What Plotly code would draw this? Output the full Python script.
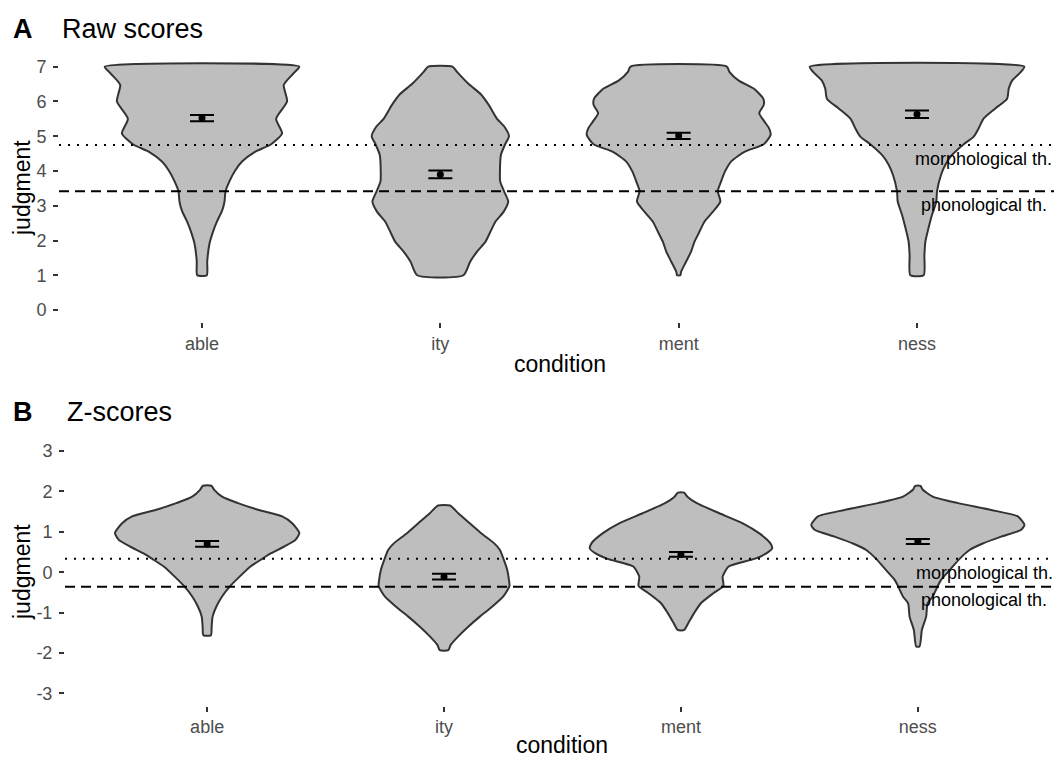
import plotly.graph_objects as go

# page body adds an 8px margin; figure is sized so it fits the 1062x758 window
OFF = 8
W, H = 1062 - OFF, 758 - OFF
categories = ["able", "ity", "ment", "ness"]

# ---- Panel A: raw scores ----
means_raw = [5.52, 3.90, 5.01, 5.63]
se_raw = [0.09, 0.11, 0.09, 0.11]
thr_raw = {"morph": 4.75, "phon": 3.42}
raw_ticks = [0, 1, 2, 3, 4, 5, 6, 7]

# violin profiles: judgment values and half-widths (category units)
raw_able_y = [1.0, 1.4, 1.9, 2.25, 2.55, 2.85, 3.1, 3.42, 3.7, 4.0, 4.27, 4.55, 4.77, 5.08, 5.5, 6.0, 6.47, 6.7, 6.85, 7.0]
raw_able_w = [0.020, 0.022, 0.031, 0.046, 0.063, 0.084, 0.094, 0.099, 0.115, 0.138, 0.168, 0.222, 0.290, 0.336, 0.311, 0.357, 0.343, 0.369, 0.390, 0.408]
raw_ity_y = [1.0, 1.39, 1.68, 1.96, 2.25, 2.54, 2.83, 3.12, 3.42, 3.7, 3.98, 4.46, 4.77, 5.0, 5.27, 5.5, 5.9, 6.2, 6.5, 6.85, 7.0]
raw_ity_w = [0.097, 0.125, 0.154, 0.189, 0.210, 0.231, 0.266, 0.285, 0.267, 0.251, 0.250, 0.254, 0.272, 0.288, 0.269, 0.238, 0.203, 0.171, 0.119, 0.070, 0.051]
raw_ment_y = [1.0, 1.1, 1.39, 1.68, 1.96, 2.25, 2.54, 2.83, 3.12, 3.42, 3.7, 3.98, 4.27, 4.55, 4.77, 5.04, 5.23, 5.42, 5.66, 5.9, 6.08, 6.37, 6.6, 6.85, 7.0]
raw_ment_w = [0.007, 0.010, 0.031, 0.052, 0.066, 0.087, 0.108, 0.144, 0.175, 0.164, 0.178, 0.194, 0.220, 0.276, 0.357, 0.386, 0.379, 0.360, 0.338, 0.357, 0.355, 0.315, 0.252, 0.213, 0.202]
raw_ness_y = [1.0, 1.58, 1.96, 2.35, 2.74, 3.12, 3.42, 3.89, 4.18, 4.46, 4.77, 4.99, 5.23, 5.51, 5.8, 6.08, 6.37, 6.6, 6.85, 7.0]
raw_ness_w = [0.028, 0.031, 0.035, 0.048, 0.063, 0.081, 0.084, 0.101, 0.119, 0.147, 0.196, 0.238, 0.259, 0.280, 0.329, 0.378, 0.385, 0.399, 0.436, 0.450]

# ---- Panel B: z-scores ----
means_z = [0.70, -0.11, 0.44, 0.76]
se_z = [0.07, 0.07, 0.06, 0.06]
thr_z = {"morph": 0.33, "phon": -0.36}
z_ticks = [-3, -2, -1, 0, 1, 2, 3]

z_able_y = [-1.56, -1.35, -1.1, -0.85, -0.6, -0.34, -0.11, 0.14, 0.33, 0.47, 0.63, 0.8, 0.97, 1.21, 1.38, 1.54, 1.71, 1.87, 2.04, 2.14]
z_able_w = [0.016, 0.019, 0.023, 0.039, 0.063, 0.098, 0.137, 0.183, 0.232, 0.270, 0.324, 0.373, 0.389, 0.359, 0.317, 0.218, 0.130, 0.063, 0.030, 0.018]
z_ity_y = [-1.93, -1.8, -1.6, -1.35, -1.1, -0.85, -0.6, -0.34, -0.19, 0.05, 0.33, 0.55, 0.72, 0.96, 1.21, 1.46, 1.65]
z_ity_w = [0.018, 0.028, 0.058, 0.102, 0.151, 0.204, 0.250, 0.276, 0.274, 0.267, 0.251, 0.236, 0.211, 0.158, 0.109, 0.060, 0.025]
z_ment_y = [-1.43, -1.27, -1.02, -0.77, -0.52, -0.34, -0.11, 0.14, 0.33, 0.47, 0.59, 0.72, 0.96, 1.21, 1.46, 1.71, 1.87, 1.97]
z_ment_w = [0.014, 0.030, 0.055, 0.084, 0.137, 0.179, 0.176, 0.201, 0.310, 0.362, 0.385, 0.377, 0.331, 0.261, 0.162, 0.067, 0.027, 0.013]
z_ness_y = [-1.84, -1.43, -1.1, -0.77, -0.6, -0.34, -0.19, 0.05, 0.33, 0.55, 0.71, 0.88, 1.05, 1.17, 1.38, 1.54, 1.71, 1.87, 2.04, 2.14]
z_ness_w = [0.007, 0.017, 0.035, 0.041, 0.063, 0.084, 0.098, 0.134, 0.176, 0.218, 0.274, 0.352, 0.436, 0.450, 0.422, 0.310, 0.169, 0.063, 0.021, 0.011]

raw_profiles = [(raw_able_y, raw_able_w), (raw_ity_y, raw_ity_w), (raw_ment_y, raw_ment_w), (raw_ness_y, raw_ness_w)]
z_profiles = [(z_able_y, z_able_w), (z_ity_y, z_ity_w), (z_ment_y, z_ment_w), (z_ness_y, z_ness_w)]

FONT = "Liberation Sans, Arial, Helvetica, sans-serif"
FILL = "#bebebe"
EDGE = "#333333"

fig = go.Figure()

def add_panel(profiles, means, ses, xa, ya):
    for i, (ys, ws) in enumerate(profiles):
        c = i + 1
        px = [c + w for w in ws] + [c - w for w in ws[::-1]]
        py = list(ys) + list(ys[::-1])
        px.append(px[0]); py.append(py[0])
        fig.add_trace(go.Scatter(x=px, y=py, mode="lines", fill="toself",
                                 fillcolor=FILL, line=dict(color=EDGE, width=2, shape="spline", smoothing=0.6),
                                 xaxis=xa, yaxis=ya, hoverinfo="skip", showlegend=False))
    fig.add_trace(go.Scatter(x=[1, 2, 3, 4], y=means, mode="markers",
                             marker=dict(color="black", size=7),
                             error_y=dict(type="data", array=ses, color="black", thickness=2, width=12),
                             xaxis=xa, yaxis=ya, showlegend=False, hoverinfo="skip"))

add_panel(raw_profiles, means_raw, se_raw, "x", "y")
add_panel(z_profiles, means_z, se_z, "x2", "y2")

def pxx(p):
    return (p - OFF) / W

def pxy(p):
    return 1 - (p - OFF) / H

# threshold lines
for xr, yr, thr in [("x domain", "y", thr_raw), ("x2 domain", "y2", thr_z)]:
    fig.add_shape(type="line", xref=xr, yref=yr, x0=0, x1=1, y0=thr["morph"], y1=thr["morph"],
                  line=dict(color="black", width=2, dash="2px,7px"), layer="above")
    fig.add_shape(type="line", xref=xr, yref=yr, x0=0, x1=1, y0=thr["phon"], y1=thr["phon"],
                  line=dict(color="black", width=2, dash="10px,6px"), layer="above")

# threshold labels
lab_font = dict(family=FONT, size=18, color="black")
for xr, yr, ym, yp in [("x", "y", 4.35, 3.02), ("x2", "y2", -0.01, -0.69)]:
    fig.add_annotation(x=4.28, y=ym, xref=xr, yref=yr, text="morphological th.", showarrow=False, font=lab_font)
    fig.add_annotation(x=4.28, y=yp, xref=xr, yref=yr, text="phonological th.", showarrow=False, font=lab_font)

tick_font = dict(family=FONT, size=18, color="#4d4d4d")
common_x = dict(tickvals=[1, 2, 3, 4], ticktext=categories, range=[0.4, 4.6], showgrid=False, zeroline=False,
                showline=False, ticks="outside", ticklen=5, tickwidth=1.5, tickcolor="#333333", tickfont=tick_font)
common_y = dict(showgrid=False, zeroline=False, showline=False, ticks="outside", ticklen=5, tickwidth=1.5,
                tickcolor="#333333", tickfont=tick_font, ticklabelstandoff=3)

fig.update_layout(
    width=W, height=H, margin=dict(l=0, r=0, t=0, b=0),
    paper_bgcolor="white", plot_bgcolor="white", showlegend=False,
    xaxis=dict(domain=[pxx(59), pxx(1060)], anchor="y", **common_x),
    yaxis=dict(domain=[pxy(322.2), pxy(54.5)], anchor="x", range=[-0.35, 7.35],
               tickvals=raw_ticks, ticktext=[str(t) for t in raw_ticks], **common_y),
    xaxis2=dict(domain=[pxx(65), pxx(1060)], anchor="y2", **common_x),
    yaxis2=dict(domain=[pxy(705.5), pxy(438.9)], anchor="x2", range=[-3.3, 3.3],
                tickvals=z_ticks, ticktext=[str(t) for t in z_ticks], **common_y),
)

title_font = dict(family=FONT, size=27, color="black")
axis_font = dict(family=FONT, size=23, color="black")

def add_text(text, x, y, font, xanchor="left", angle=0):
    fig.add_annotation(text=text, x=pxx(x), y=pxy(y), xref="paper", yref="paper",
                       showarrow=False, font=font, xanchor=xanchor, yanchor="middle", textangle=angle)

add_text("<b>A</b>", 11, 29, title_font)
add_text("Raw scores", 60, 29, title_font)
add_text("<b>B</b>", 11, 412, title_font)
add_text("Z-scores", 65, 412, title_font)
add_text("judgment", 22, 188, axis_font, xanchor="center", angle=-90)
add_text("judgment", 22, 572, axis_font, xanchor="center", angle=-90)
add_text("condition", 560, 364, axis_font, xanchor="center")
add_text("condition", 562, 745, axis_font, xanchor="center")

fig.write_html("out.html")
